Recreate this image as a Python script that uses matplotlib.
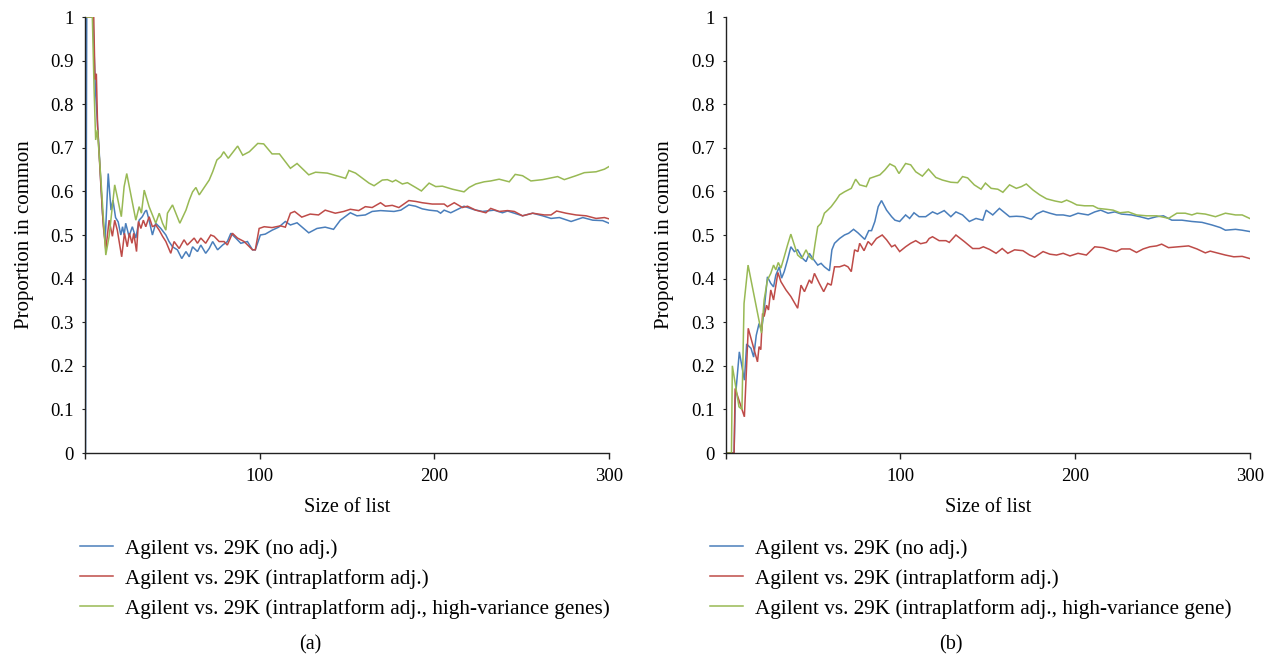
import matplotlib
matplotlib.use("Agg")
import matplotlib.pyplot as plt
from matplotlib.lines import Line2D

plt.rcParams['font.family'] = ['Liberation Serif', 'DejaVu Serif']

# ---------------- data: panel (a) ----------------
a_blue = [(0.3,0),(1,1),(4.5,1),(6,0.83),(8,0.7),(10,0.55),(11.5,0.485),(13.3,0.641),(14.9,0.557),(16,0.58),
          (17.5,0.54),(19,0.53),(20.5,0.5),(21.5,0.519),(22.4,0.5),(23.3,0.527),(25.2,0.497),(27.1,0.519),(29.1,0.493),
          (31,0.534),(32.8,0.542),(34.4,0.554),(35.2,0.557),(36.7,0.534),(38.6,0.5),(40.5,0.527),(43.4,0.515),(46.3,0.5),
          (48.1,0.485),(50.1,0.473),(52.9,0.466),(55.4,0.446),(57.8,0.462),(59.7,0.45),(61.6,0.473),(64.4,0.462),
          (66.3,0.477),(69.1,0.458),(71.1,0.469),(73.1,0.485),(75.9,0.466),(78.8,0.477),(81.5,0.485),(83.5,0.504),
          (86.3,0.493),(89.2,0.481),(93,0.485),(95.9,0.466),(97.5,0.466),(100.4,0.5),(103.2,0.502),(107.1,0.511),
          (110.9,0.518),(114.7,0.531),(117.6,0.523),(121.4,0.528),(128.1,0.505),(132.8,0.515),(137.5,0.518),
          (142.3,0.513),(146.2,0.534),(151.9,0.551),(155.7,0.544),(160.5,0.546),(164.4,0.554),(169.2,0.556),
          (173.1,0.555),(176.9,0.554),(180.8,0.557),(185.4,0.569),(189.3,0.566),(193.1,0.56),(197,0.557),
          (201.7,0.555),(203.6,0.55),(205.6,0.557),(209.4,0.551),(217,0.566),(222.8,0.558),(227.6,0.554),
          (234.2,0.557),(239,0.551),(241.9,0.555),(250.5,0.544),(256.3,0.55),(262,0.544),(266.8,0.538),
          (271.6,0.54),(278.3,0.531),(285,0.54),(290.7,0.534),(296.4,0.533),(300,0.527)]

a_red = [(1,1),(5,1),(5.7,0.857),(6.5,0.87),(7.2,0.75),(9,0.62),(10.5,0.52),(11.9,0.466),(13.8,0.534),(15.7,0.497),
         (17,0.534),(18.5,0.511),(21,0.45),(22.6,0.504),(24.2,0.473),(25.4,0.504),(26.9,0.481),(27.9,0.504),
         (29.5,0.462),(30.6,0.531),(32,0.515),(33.4,0.534),(34.8,0.519),(36.7,0.542),(38.6,0.519),(40.5,0.523),
         (42.5,0.511),(44.4,0.497),(46.3,0.485),(49.1,0.458),(51,0.485),(53.9,0.469),(56.7,0.489),(58.6,0.477),
         (62.5,0.493),(64.4,0.481),(66.3,0.493),(69.1,0.481),(72,0.5),(73.9,0.497),(76.8,0.485),(79.6,0.485),
         (81.5,0.477),(84.4,0.504),(87.3,0.493),(91.1,0.485),(95.9,0.466),(97.5,0.466),(99.7,0.515),(102.6,0.519),
         (107.1,0.517),(111.9,0.521),(114.7,0.518),(117.6,0.55),(120,0.554),(124.1,0.541),(128.9,0.548),
         (133.7,0.546),(137.5,0.557),(143.3,0.55),(148.1,0.554),(151.9,0.559),(156.7,0.556),(160.5,0.565),
         (164.4,0.563),(169.2,0.574),(172,0.566),(175.9,0.568),(179.7,0.563),(185.4,0.579),(189.3,0.577),
         (193.1,0.574),(198.8,0.571),(205.6,0.571),(207.5,0.565),(211.4,0.574),(216.1,0.563),(219,0.566),
         (223.7,0.557),(229.5,0.551),(232.3,0.561),(237.1,0.554),(241.9,0.556),(245.8,0.554),(250.5,0.544),
         (256.3,0.55),(263,0.546),(266.8,0.546),(270,0.555),(275.4,0.55),(281.1,0.546),(286.9,0.544),
         (292.6,0.538),(297.4,0.54),(300,0.537)]

a_green = [(1,1),(4.2,1),(5.2,0.835),(6.1,0.718),(7.1,0.741),(9.0,0.634),(11.9,0.454),(13.8,0.497),(17.0,0.615),
           (18.5,0.587),(20.8,0.542),(22.4,0.611),(23.9,0.641),(29.1,0.534),(31.0,0.565),(32.3,0.55),(33.9,0.603),
           (36.7,0.565),(40.5,0.527),(42.5,0.55),(44.4,0.527),(46.3,0.511),(47.2,0.55),(50.1,0.569),(54.3,0.527),
           (57.8,0.557),(59.7,0.58),(61.6,0.599),(63.5,0.609),(65.4,0.592),(71.1,0.626),(73.1,0.645),(75.5,0.672),
           (77.8,0.68),(79.4,0.691),(82.0,0.676),(87.4,0.704),(90.3,0.683),(94.1,0.691),(98.9,0.71),(102.3,0.709),
           (107.1,0.686),(111.3,0.686),(117.6,0.653),(121.4,0.664),(128.1,0.638),(132.0,0.644),(138.7,0.642),
           (149.2,0.63),(151.1,0.648),(154.9,0.642),(162.6,0.619),(165.5,0.613),(170.2,0.626),(173.1,0.627),
           (176.0,0.622),(177.9,0.626),(181.7,0.617),(184.6,0.62),(189.3,0.609),(192.6,0.601),(197.0,0.619),
           (200.8,0.611),(204.6,0.612),(210.4,0.605),(217.0,0.599),(219.9,0.609),(223.7,0.617),(228.5,0.622),
           (232.3,0.624),(237.1,0.628),(242.9,0.622),(246.3,0.639),(250.5,0.636),(255.3,0.624),(262.0,0.627),
           (270.6,0.634),(274.4,0.627),(281.1,0.636),(285.9,0.643),(292.6,0.645),(297.4,0.651),(300,0.657)]

# ---------------- data: panel (b) ----------------
b_blue = [(0,0),(4.8,0),(5.5,0.125),(7.8,0.232),(10.7,0.167),(12,0.25),(14.5,0.24),(16,0.22),(17.5,0.27),
          (19.1,0.297),(20.5,0.28),(22,0.328),(23.9,0.404),(25.8,0.389),(27.4,0.381),(28.7,0.408),(30.7,0.427),
          (32,0.401),(33.5,0.416),(35.4,0.443),(37.3,0.473),(39.3,0.462),(41.2,0.466),(44.1,0.446),(46,0.439),
          (47.9,0.458),(49.2,0.45),(51.2,0.439),(52.7,0.431),(54.6,0.435),(56.5,0.427),(59.4,0.418),(60.8,0.466),
          (62.3,0.481),(65.2,0.492),(68,0.5),(70.4,0.504),(73.2,0.513),(75.7,0.505),(79.6,0.49),(81.9,0.51),
          (83.5,0.51),(85.4,0.531),(87.3,0.565),(89.2,0.579),(92.1,0.557),(95,0.542),(96.9,0.534),(99.6,0.531),
          (103,0.546),(105.3,0.538),(107.8,0.551),(110.7,0.542),(114.5,0.542),(118.4,0.553),(121.2,0.548),
          (125.1,0.556),(128.9,0.542),(131.8,0.553),(135.6,0.546),(139.5,0.531),(143.3,0.538),(147.2,0.534),
          (149.1,0.557),(152.9,0.546),(156.7,0.561),(162.5,0.542),(166.4,0.543),(170.2,0.542),(175,0.536),
          (177.9,0.548),(181.7,0.555),(185.6,0.55),(189.4,0.546),(193.2,0.546),(197.1,0.543),(201.7,0.55),
          (207.5,0.546),(211.3,0.553),(214.7,0.557),(218.9,0.55),(222.8,0.553),(226.6,0.548),(232.3,0.546),
          (237.1,0.542),(241.9,0.537),(246.7,0.542),(250.6,0.544),(255.4,0.534),(261.2,0.534),(266.9,0.531),
          (272.7,0.529),(278.4,0.523),(283.2,0.517),(286.1,0.511),(291.9,0.513),(295.7,0.511),(300,0.508)]

b_red = [(0,0),(4.8,0),(5.4,0.148),(10.7,0.083),(12.9,0.286),(18.2,0.209),(19.1,0.244),(20.1,0.237),(21.1,0.32),
         (22,0.313),(23.4,0.339),(24.5,0.328),(25.8,0.374),(27.4,0.351),(29.9,0.414),(31.6,0.393),(34.5,0.374),
         (37.3,0.359),(41.2,0.332),(43.1,0.385),(45.1,0.37),(47.9,0.397),(49.2,0.389),(50.8,0.412),(53.6,0.389),
         (56.1,0.37),(58.4,0.389),(60.4,0.385),(62.3,0.427),(65.2,0.427),(68,0.431),(70,0.427),(71.9,0.416),
         (73.8,0.466),(75.7,0.462),(76.7,0.481),(79.2,0.464),(81.5,0.485),(83.5,0.477),(86.3,0.492),(89.6,0.5),
         (92.1,0.489),(95,0.473),(96.9,0.477),(99.6,0.462),(103,0.473),(105.9,0.481),(108.8,0.487),(111.6,0.48),
         (114.9,0.483),(116.5,0.492),(118.4,0.496),(122.2,0.487),(126.1,0.487),(128,0.483),(131.8,0.5),
         (136.6,0.485),(141.4,0.469),(145.2,0.469),(147.5,0.473),(151,0.467),(154.8,0.458),(158.3,0.469),
         (161.5,0.458),(165.4,0.466),(170.2,0.464),(174,0.454),(176.9,0.449),(181.7,0.462),(185.6,0.456),
         (189.4,0.454),(193.2,0.458),(197.1,0.452),(201.7,0.458),(206.5,0.454),(211.3,0.473),(216.1,0.471),
         (219.9,0.466),(223.7,0.462),(226.6,0.468),(231.4,0.468),(235.2,0.46),(239,0.468),(242.9,0.473),
         (246.7,0.475),(249.6,0.479),(253.5,0.471),(259.2,0.473),(265,0.475),(269.8,0.468),(274.6,0.459),
         (277.4,0.463),(282.2,0.458),(286.1,0.454),(290.9,0.45),(295.7,0.451),(300,0.446)]

b_green = [(0,0),(3.3,0),(3.8,0.2),(7.6,0.106),(9.3,0.1),(10.5,0.343),(12.8,0.431),(20.5,0.275),(22,0.351),
           (23.9,0.397),(25.8,0.412),(27.4,0.431),(28.7,0.42),(30.1,0.437),(31.6,0.424),(33.5,0.45),(35.4,0.477),
           (37.3,0.502),(39.3,0.477),(41.2,0.454),(43.5,0.446),(46,0.466),(47.9,0.45),(49.8,0.443),(51.2,0.481),
           (52.7,0.519),(54.6,0.527),(56.5,0.55),(58.4,0.557),(60.4,0.565),(63.2,0.58),(65.2,0.592),(68,0.599),
           (71.9,0.607),(74.4,0.628),(76.7,0.615),(80.5,0.611),(82.5,0.63),(85.4,0.634),(88.3,0.638),(91.1,0.649),
           (94,0.663),(96.9,0.657),(99.2,0.641),(103,0.664),(105.9,0.661),(108.8,0.645),(112.6,0.635),(116.1,0.651),
           (120.3,0.632),(124.1,0.626),(128.9,0.621),(132.8,0.62),(135.6,0.634),(138.5,0.631),(142.3,0.615),
           (146.2,0.605),(148.7,0.619),(152,0.607),(155.8,0.605),(158.7,0.598),(162.5,0.615),(166.4,0.607),
           (169.3,0.611),(172.1,0.617),(176,0.603),(179.8,0.592),(183.7,0.583),(188.5,0.578),(192.3,0.575),
           (195.2,0.58),(198.1,0.575),(201,0.569),(205.5,0.567),(210.3,0.567),(213.2,0.561),(218,0.559),
           (221.8,0.557),(225.7,0.551),(230.5,0.553),(235.3,0.546),(241,0.544),(246.8,0.544),(251.6,0.54),
           (253.5,0.538),(258.3,0.55),(263.1,0.55),(266.9,0.546),(269.8,0.55),(274.6,0.548),(280.4,0.542),
           (286.1,0.55),(291.9,0.546),(295.7,0.546),(300,0.538)]

labels_a = ["Agilent vs. 29K (no adj.)", "Agilent vs. 29K (intraplatform adj.)",
            "Agilent vs. 29K (intraplatform adj., high-variance genes)"]
labels_b = ["Agilent vs. 29K (no adj.)", "Agilent vs. 29K (intraplatform adj.)",
            "Agilent vs. 29K (intraplatform adj., high-variance gene)"]
yticks = [0, 0.1, 0.2, 0.3, 0.4, 0.5, 0.6, 0.7, 0.8, 0.9, 1]
ytick_labels = ["0", "0.1", "0.2", "0.3", "0.4", "0.5", "0.6", "0.7", "0.8", "0.9", "1"]
xticks = [0, 100, 200, 300]
xtick_labels = ["", "100", "200", "300"]

colors = ["#4A7EBB", "#BE4B48", "#98B954"]

W, H = 1273, 659
fig = plt.figure(figsize=(W / 100, H / 100), dpi=100)

def px(x, y):
    return x / W, 1 - y / H

def setup(ax, series, labels, leg_x, sub_label, sub_x):
    for data, c, lab in zip(series, colors, labels):
        xs = [p[0] for p in data]
        ys = [p[1] for p in data]
        ax.plot(xs, ys, color=c, lw=1.1, label=lab, solid_joinstyle='miter')
    ax.set_xlim(0, 300)
    ax.set_ylim(0, 1)
    ax.set_xticks(xticks)
    ax.set_xticklabels(xtick_labels)
    ax.set_yticks(yticks)
    ax.set_yticklabels(ytick_labels)
    for s in ["top", "right"]:
        ax.spines[s].set_visible(False)
    for s in ["left", "bottom"]:
        ax.spines[s].set_linewidth(1.0)
        ax.spines[s].set_color("#222222")
    ax.tick_params(axis='x', direction='out', length=4, width=1, labelsize=13.5, pad=7, colors="#222222")
    ax.tick_params(axis='y', direction='out', length=2, width=0.8, labelsize=13.5, pad=6, colors="#222222")
    for t in ax.get_xticklabels() + ax.get_yticklabels():
        t.set_color("black")
    ax.set_xlabel("Size of list", fontsize=14.5, labelpad=9)
    ax.set_ylabel("Proportion in common", fontsize=15, labelpad=12)
    handles = [Line2D([0], [0], color=c, lw=1.1) for c in colors]
    lx, ly = px(leg_x, 539)
    ax.legend(handles, labels, loc='upper left', bbox_to_anchor=(lx, ly),
              bbox_transform=fig.transFigure, frameon=False, fontsize=15.3,
              handlelength=1.55, handletextpad=0.55, labelspacing=0.47,
              borderpad=0, borderaxespad=0)
    sx, sy = px(sub_x, 645)
    fig.text(sx, sy, sub_label, ha='center', va='center', fontsize=14.5)

l, b = px(85, 453)
ax1 = fig.add_axes([l, b, 524 / W, 436 / H])
setup(ax1, [a_blue, a_red, a_green], labels_a, 80, "(a)", 310)

l, b = px(725.7, 453)
ax2 = fig.add_axes([l, b, 524 / W, 436 / H])
setup(ax2, [b_blue, b_red, b_green], labels_b, 710, "(b)", 951)

fig.savefig("out.png", dpi=100)
